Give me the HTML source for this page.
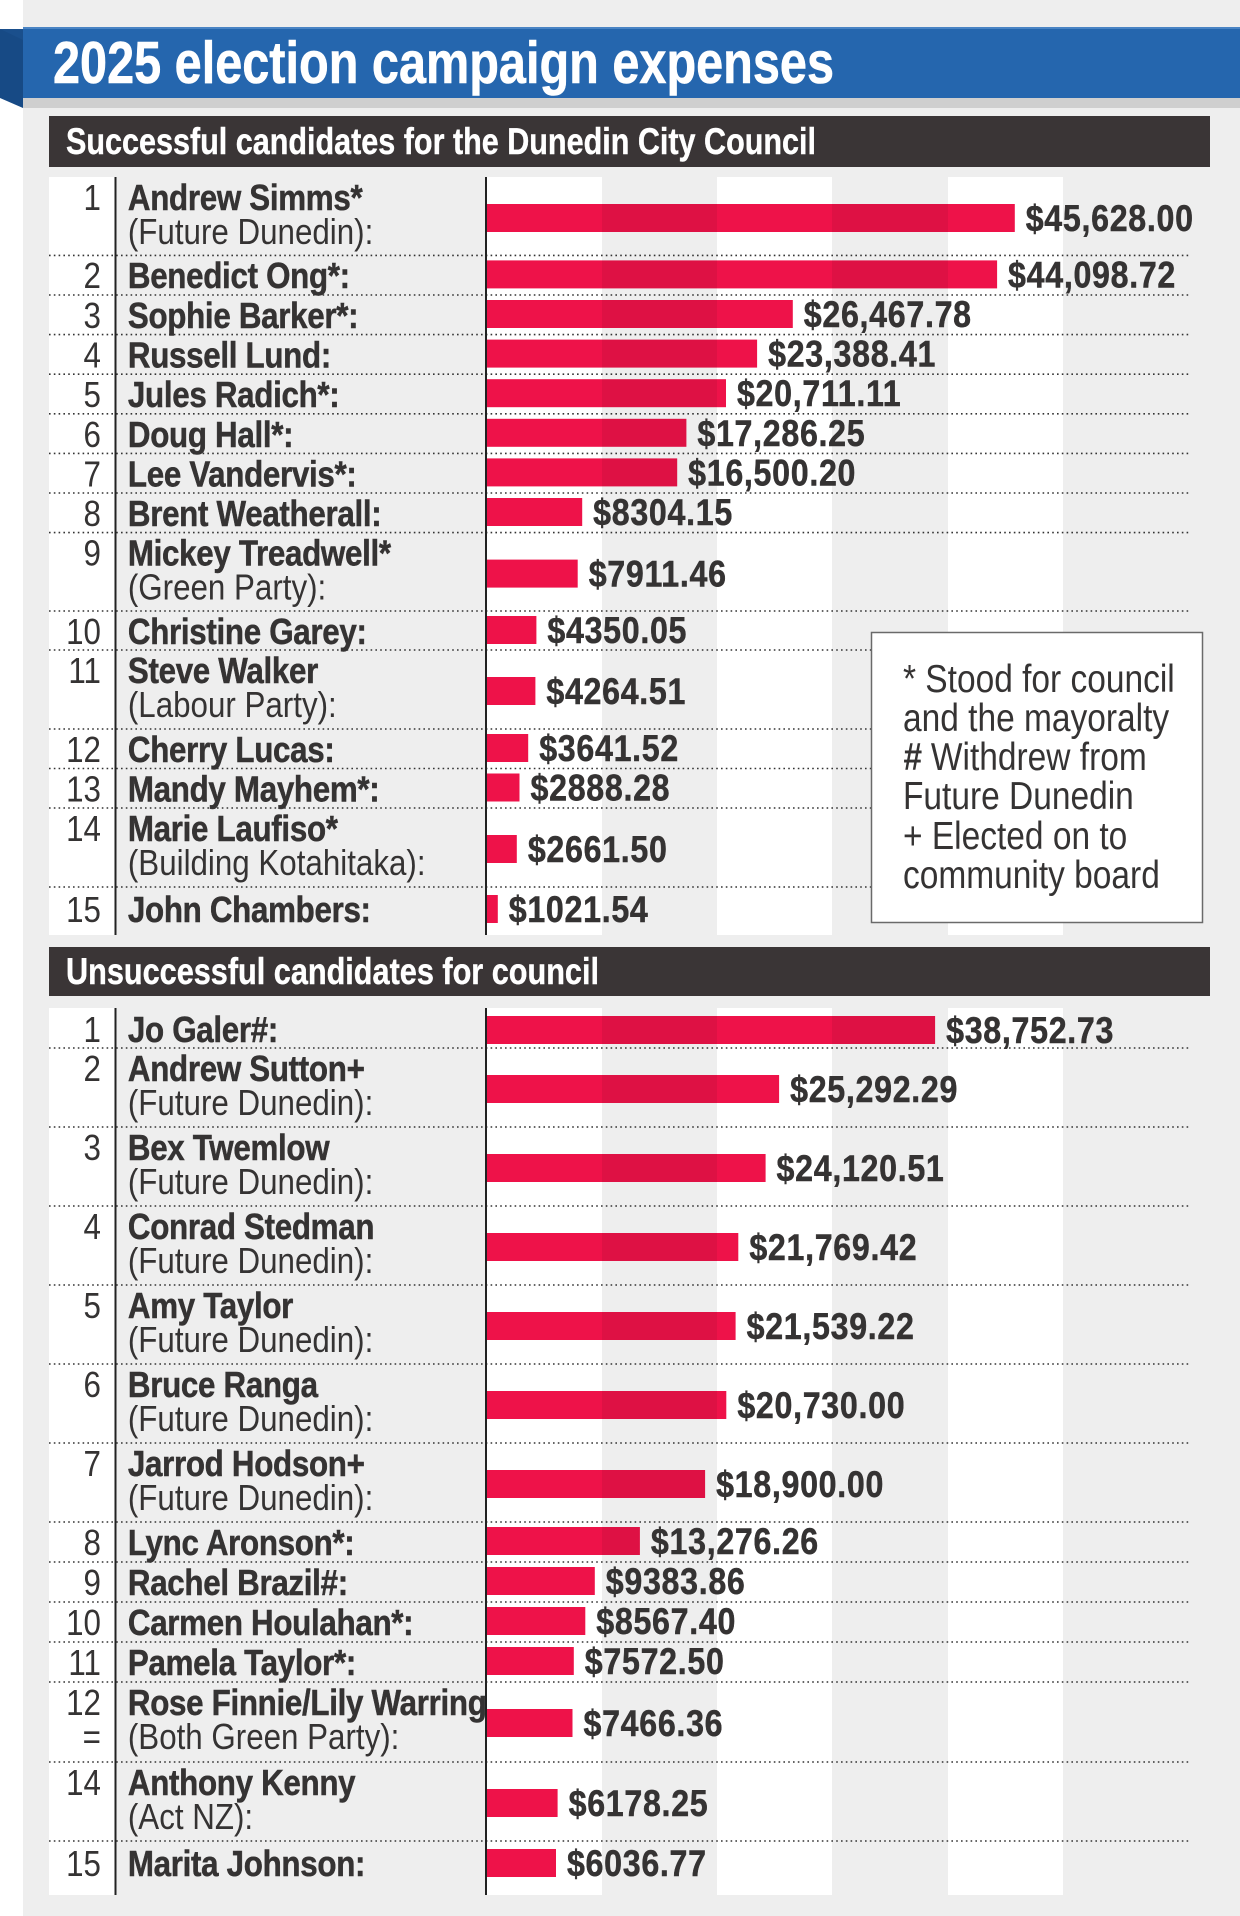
<!DOCTYPE html>
<html><head><meta charset="utf-8"><style>
html,body{margin:0;padding:0;background:#fff}
svg{display:block}
text{font-family:"Liberation Sans",sans-serif;fill:#353333}
.b{font-weight:bold;font-size:36px;letter-spacing:-0.35px;stroke:#353333;stroke-width:0.5}
.r{font-size:36px}
.v{font-weight:bold;font-size:37px;letter-spacing:0.8px;stroke:#353333;stroke-width:0.5}
.n{font-size:36px;text-anchor:end}
.l{font-size:38.5px}
</style></head><body>
<svg width="1240" height="1916" viewBox="0 0 1240 1916" xmlns="http://www.w3.org/2000/svg">
<rect x="0" y="0" width="1240" height="1916" fill="#fff"/>
<rect x="23" y="0" width="1217" height="1916" fill="#eeeeee"/>
<rect x="23" y="98" width="1217" height="10" fill="#cfcfcf"/>
<polygon points="0,29 23,29 23,108" fill="#1a4f8c"/>
<polygon points="0,29 23,40 23,108 0,98" fill="#174a85"/>
<rect x="23" y="27" width="1217" height="71" fill="#2566ae"/>
<rect x="23" y="27" width="1217" height="2" fill="#4a84c4"/>
<text x="53" y="83" font-size="59" font-weight="bold" style="fill:#fff;stroke:#fff;stroke-width:0.6" textLength="781" lengthAdjust="spacingAndGlyphs">2025 election campaign expenses</text>
<rect x="49" y="116" width="1161" height="51" fill="#3a3536"/>
<text x="66" y="154" font-size="37" font-weight="bold" style="fill:#fff;stroke:#fff;stroke-width:0.4" textLength="750" lengthAdjust="spacingAndGlyphs">Successful candidates for the Dunedin City Council</text>
<rect x="49" y="177" width="67" height="758" fill="#fff"/>
<rect x="487" y="177" width="115" height="758" fill="#fff"/>
<rect x="717" y="177" width="115" height="758" fill="#fff"/>
<rect x="948" y="177" width="115" height="758" fill="#fff"/>
<rect x="49" y="947" width="1161" height="49" fill="#3a3536"/>
<text x="66" y="984" font-size="37" font-weight="bold" style="fill:#fff;stroke:#fff;stroke-width:0.4" textLength="533" lengthAdjust="spacingAndGlyphs">Unsuccessful candidates for council</text>
<rect x="49" y="1008" width="67" height="887" fill="#fff"/>
<rect x="487" y="1008" width="115" height="887" fill="#fff"/>
<rect x="717" y="1008" width="115" height="887" fill="#fff"/>
<rect x="948" y="1008" width="115" height="887" fill="#fff"/>
<g stroke="#333" stroke-width="1.6" stroke-dasharray="1.6 3.2">
<line x1="49" x2="1190" y1="255.4" y2="255.4"/><line x1="49" x2="1190" y1="295" y2="295"/>
<line x1="49" x2="1190" y1="334.6" y2="334.6"/><line x1="49" x2="1190" y1="374.2" y2="374.2"/>
<line x1="49" x2="1190" y1="413.8" y2="413.8"/><line x1="49" x2="1190" y1="453.4" y2="453.4"/>
<line x1="49" x2="1190" y1="493" y2="493"/><line x1="49" x2="1190" y1="532.6" y2="532.6"/>
<line x1="49" x2="1190" y1="611" y2="611"/><line x1="49" x2="1190" y1="650" y2="650"/>
<line x1="49" x2="1190" y1="729" y2="729"/><line x1="49" x2="1190" y1="768.5" y2="768.5"/>
<line x1="49" x2="1190" y1="808" y2="808"/><line x1="49" x2="1190" y1="887" y2="887"/>
<line x1="49" x2="1190" y1="1048" y2="1048"/><line x1="49" x2="1190" y1="1127" y2="1127"/>
<line x1="49" x2="1190" y1="1206" y2="1206"/><line x1="49" x2="1190" y1="1285" y2="1285"/>
<line x1="49" x2="1190" y1="1364" y2="1364"/><line x1="49" x2="1190" y1="1443" y2="1443"/>
<line x1="49" x2="1190" y1="1522" y2="1522"/><line x1="49" x2="1190" y1="1562" y2="1562"/>
<line x1="49" x2="1190" y1="1602" y2="1602"/><line x1="49" x2="1190" y1="1642" y2="1642"/>
<line x1="49" x2="1190" y1="1682" y2="1682"/><line x1="49" x2="1190" y1="1762" y2="1762"/>
<line x1="49" x2="1190" y1="1841" y2="1841"/>
</g>
<g fill="#222">
<rect x="114.5" y="177" width="2" height="758"/><rect x="485" y="177" width="2" height="758"/>
<rect x="114.5" y="1008" width="2" height="887"/><rect x="485" y="1008" width="2" height="887"/>
</g>
<g fill="#ee1249" style="mix-blend-mode:multiply">
<rect x="487" y="204" width="527.8" height="28"/>
<rect x="487" y="260.4" width="510.1" height="28"/>
<rect x="487" y="300" width="305.8" height="28"/>
<rect x="487" y="339.6" width="270.1" height="28"/>
<rect x="487" y="379.2" width="239" height="28"/>
<rect x="487" y="418.8" width="199.4" height="28"/>
<rect x="487" y="458.4" width="190.2" height="28"/>
<rect x="487" y="498" width="95.2" height="28"/>
<rect x="487" y="559.6" width="90.7" height="28"/>
<rect x="487" y="616" width="49.4" height="28"/>
<rect x="487" y="677" width="48.4" height="28"/>
<rect x="487" y="734" width="41.2" height="28"/>
<rect x="487" y="773.5" width="32.5" height="28"/>
<rect x="487" y="835" width="29.8" height="28"/>
<rect x="487" y="895" width="10.8" height="28"/>
<rect x="487" y="1016" width="448.1" height="28"/>
<rect x="487" y="1075" width="292.1" height="28"/>
<rect x="487" y="1154" width="278.6" height="28"/>
<rect x="487" y="1233" width="251.3" height="28"/>
<rect x="487" y="1312" width="248.6" height="28"/>
<rect x="487" y="1391" width="239.3" height="28"/>
<rect x="487" y="1470" width="218.1" height="28"/>
<rect x="487" y="1527" width="152.9" height="28"/>
<rect x="487" y="1567" width="107.8" height="28"/>
<rect x="487" y="1607" width="98.3" height="28"/>
<rect x="487" y="1647" width="86.8" height="28"/>
<rect x="487" y="1709" width="85.5" height="28"/>
<rect x="487" y="1789" width="70.6" height="28"/>
<rect x="487" y="1849" width="69" height="28"/>
</g>
<rect x="871.5" y="632.5" width="331" height="290" fill="#fff" stroke="#6a6a6a" stroke-width="1.5"/>
<g transform="scale(0.87,1)">
<text class="l" x="1037.9" y="692">* Stood for council</text>
<text class="l" x="1037.9" y="731">and the mayoralty</text>
<text class="l" x="1037.9" y="770"><tspan font-weight="bold" font-style="italic">#</tspan> Withdrew from</text>
<text class="l" x="1037.9" y="809">Future Dunedin</text>
<text class="l" x="1037.9" y="849">+ Elected on to</text>
<text class="l" x="1037.9" y="888">community board</text>

<text class="n" x="116" y="210">1</text><text class="b" x="147" y="210">Andrew Simms*</text><text class="r" x="147" y="244">(Future Dunedin):</text><text class="v" x="1179" y="231">$45,628.00</text>
<text class="n" x="116" y="288">2</text><text class="b" x="147" y="288">Benedict Ong*:</text><text class="v" x="1158.7" y="287.4">$44,098.72</text>
<text class="n" x="116" y="328">3</text><text class="b" x="147" y="328">Sophie Barker*:</text><text class="v" x="923.9" y="327">$26,467.78</text>
<text class="n" x="116" y="367.6">4</text><text class="b" x="147" y="367.6">Russell Lund:</text><text class="v" x="882.9" y="366.6">$23,388.41</text>
<text class="n" x="116" y="407.2">5</text><text class="b" x="147" y="407.2">Jules Radich*:</text><text class="v" x="847.1" y="406.2">$20,711.11</text>
<text class="n" x="116" y="446.8">6</text><text class="b" x="147" y="446.8">Doug Hall*:</text><text class="v" x="801.6" y="445.8">$17,286.25</text>
<text class="n" x="116" y="486.4">7</text><text class="b" x="147" y="486.4">Lee Vandervis*:</text><text class="v" x="791" y="485.4">$16,500.20</text>
<text class="n" x="116" y="526">8</text><text class="b" x="147" y="526">Brent Weatherall:</text><text class="v" x="681.8" y="525">$8304.15</text>
<text class="n" x="116" y="565.6">9</text><text class="b" x="147" y="565.6">Mickey Treadwell*</text><text class="r" x="147" y="599.6">(Green Party):</text><text class="v" x="676.7" y="586.6">$7911.46</text>
<text class="n" x="116" y="644">10</text><text class="b" x="147" y="644">Christine Garey:</text><text class="v" x="629.2" y="643">$4350.05</text>
<text class="n" x="116" y="683">11</text><text class="b" x="147" y="683">Steve Walker</text><text class="r" x="147" y="717">(Labour Party):</text><text class="v" x="628" y="704">$4264.51</text>
<text class="n" x="116" y="762">12</text><text class="b" x="147" y="762">Cherry Lucas:</text><text class="v" x="619.8" y="761">$3641.52</text>
<text class="n" x="116" y="801.5">13</text><text class="b" x="147" y="801.5">Mandy Mayhem*:</text><text class="v" x="609.8" y="800.5">$2888.28</text>
<text class="n" x="116" y="841">14</text><text class="b" x="147" y="841">Marie Laufiso*</text><text class="r" x="147" y="875">(Building Kotahitaka):</text><text class="v" x="606.7" y="862">$2661.50</text>
<text class="n" x="116" y="922">15</text><text class="b" x="147" y="922">John Chambers:</text><text class="v" x="584.8" y="922">$1021.54</text>

<text class="n" x="116" y="1042">1</text><text class="b" x="147" y="1042">Jo Galer#:</text><text class="v" x="1087.5" y="1043">$38,752.73</text>
<text class="n" x="116" y="1081">2</text><text class="b" x="147" y="1081">Andrew Sutton+</text><text class="r" x="147" y="1115">(Future Dunedin):</text><text class="v" x="908.2" y="1102">$25,292.29</text>
<text class="n" x="116" y="1160">3</text><text class="b" x="147" y="1160">Bex Twemlow</text><text class="r" x="147" y="1194">(Future Dunedin):</text><text class="v" x="892.6" y="1181">$24,120.51</text>
<text class="n" x="116" y="1239">4</text><text class="b" x="147" y="1239">Conrad Stedman</text><text class="r" x="147" y="1273">(Future Dunedin):</text><text class="v" x="861.3" y="1260">$21,769.42</text>
<text class="n" x="116" y="1318">5</text><text class="b" x="147" y="1318">Amy Taylor</text><text class="r" x="147" y="1352">(Future Dunedin):</text><text class="v" x="858.2" y="1339">$21,539.22</text>
<text class="n" x="116" y="1397">6</text><text class="b" x="147" y="1397">Bruce Ranga</text><text class="r" x="147" y="1431">(Future Dunedin):</text><text class="v" x="847.5" y="1418">$20,730.00</text>
<text class="n" x="116" y="1476">7</text><text class="b" x="147" y="1476">Jarrod Hodson+</text><text class="r" x="147" y="1510">(Future Dunedin):</text><text class="v" x="823.1" y="1497">$18,900.00</text>
<text class="n" x="116" y="1555">8</text><text class="b" x="147" y="1555">Lync Aronson*:</text><text class="v" x="748.2" y="1554">$13,276.26</text>
<text class="n" x="116" y="1595">9</text><text class="b" x="147" y="1595">Rachel Brazil#:</text><text class="v" x="696.3" y="1594">$9383.86</text>
<text class="n" x="116" y="1635">10</text><text class="b" x="147" y="1635">Carmen Houlahan*:</text><text class="v" x="685.4" y="1634">$8567.40</text>
<text class="n" x="116" y="1675">11</text><text class="b" x="147" y="1675">Pamela Taylor*:</text><text class="v" x="672.2" y="1674">$7572.50</text>
<text class="n" x="116" y="1715">12</text><text class="n" x="116" y="1749">=</text><text class="b" x="147" y="1715">Rose Finnie/Lily Warring</text><text class="r" x="147" y="1749">(Both Green Party):</text><text class="v" x="670.7" y="1736">$7466.36</text>
<text class="n" x="116" y="1795">14</text><text class="b" x="147" y="1795">Anthony Kenny</text><text class="r" x="147" y="1829">(Act NZ):</text><text class="v" x="653.6" y="1816">$6178.25</text>
<text class="n" x="116" y="1876">15</text><text class="b" x="147" y="1876">Marita Johnson:</text><text class="v" x="651.7" y="1876">$6036.77</text>
</g>
</svg>
</body></html>
